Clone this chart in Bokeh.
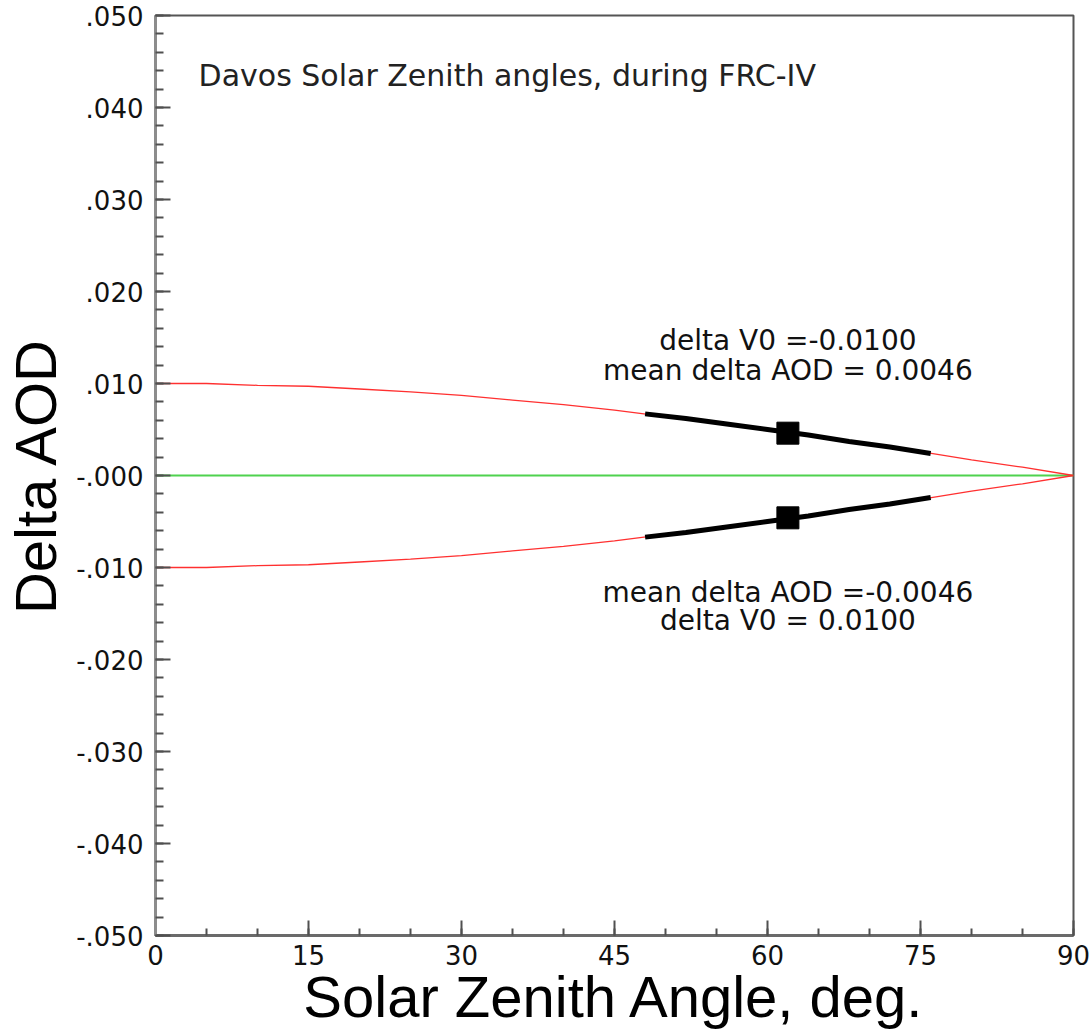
from bokeh.plotting import figure
from bokeh.models import FixedTicker, Label, Range1d
from bokeh.embed import file_html
from bokeh.resources import INLINE

# ---- data ----
sza = [0, 5, 10, 15, 20, 25, 30, 35, 40, 45, 50, 55, 60, 65, 70, 75, 80, 85, 90]
upper_aod = [0.0100, 0.0100, 0.0098, 0.0097, 0.0094, 0.0091, 0.0087, 0.0082, 0.0077,
             0.0071, 0.0064, 0.0057, 0.0050, 0.0042, 0.0034, 0.0026, 0.0017, 0.0009, 0.0000]
lower_aod = [-0.0100, -0.0100, -0.0098, -0.0097, -0.0094, -0.0091, -0.0087, -0.0082, -0.0077,
             -0.0071, -0.0064, -0.0057, -0.0050, -0.0042, -0.0034, -0.0026, -0.0017, -0.0009, 0.0000]

seg_sza = [48, 52, 56, 60, 64, 68, 72, 76]
seg_upper = [0.0067, 0.0062, 0.0056, 0.0050, 0.0044, 0.0037, 0.0031, 0.0024]
seg_lower = [-0.0067, -0.0062, -0.0056, -0.0050, -0.0044, -0.0037, -0.0031, -0.0024]

mean_sza = [62, 62]
mean_aod = [0.0046, -0.0046]

zero_sza = [0, 90]
zero_aod = [0.0, 0.0]

x_ticks = [0, 15, 30, 45, 60, 75, 90]
x_tick_labels = ["0", "15", "30", "45", "60", "75", "90"]
x_minor = [0, 5, 10, 15, 20, 25, 30, 35, 40, 45, 50, 55, 60, 65, 70, 75, 80, 85, 90]

y_ticks = [-0.05, -0.04, -0.03, -0.02, -0.01, 0.0, 0.01, 0.02, 0.03, 0.04, 0.05]
y_tick_labels = ["-.050", "-.040", "-.030", "-.020", "-.010", "-.000",
                 ".010", ".020", ".030", ".040", ".050"]
y_minor = [round(-0.05 + 0.002 * i, 3) for i in range(51)]

title_text = "Davos Solar Zenith angles, during FRC-IV"
upper_notes = ["delta V0 =-0.0100", "mean delta AOD = 0.0046"]
lower_notes = ["mean delta AOD =-0.0046", "delta V0 = 0.0100"]
x_title = "Solar Zenith Angle, deg."
y_title = "Delta AOD"
corner_text = "Delta AOD vs SZA"

# ---- figure ----
p = figure(width=1091, height=1029, frame_width=918, frame_height=920,
           x_range=Range1d(0, 90), y_range=Range1d(-0.05, 0.05),
           output_backend="svg", toolbar_location=None,
           min_border_left=155, min_border_right=18, min_border_top=15,
           min_border_bottom=94)
p.background_fill_color = "white"
p.border_fill_color = "white"
p.xgrid.visible = False
p.ygrid.visible = False
p.outline_line_color = "#555555"
p.outline_line_width = 2

p.xaxis.ticker = FixedTicker(ticks=x_ticks, minor_ticks=x_minor)
p.yaxis.ticker = FixedTicker(ticks=y_ticks, minor_ticks=y_minor)
p.xaxis.major_label_overrides = {t: l for t, l in zip(x_ticks, x_tick_labels)}
p.yaxis.major_label_overrides = {t: l for t, l in zip(y_ticks, y_tick_labels)}

for ax in (p.xaxis, p.yaxis):
    ax.major_tick_in = 15
    ax.major_tick_out = 0
    ax.minor_tick_in = 7
    ax.minor_tick_out = 0
    ax.major_tick_line_color = "#505050"
    ax.major_tick_line_width = 2
    ax.minor_tick_line_color = "#505050"
    ax.minor_tick_line_width = 2
    ax.major_label_text_font = "DejaVu Sans"
    ax.major_label_text_font_size = "26px"
    ax.major_label_text_color = "#111111"
    ax.axis_label_text_font = "Liberation Sans"
    ax.axis_label_text_font_size = "58px"
    ax.axis_label_text_font_style = "normal"
    ax.axis_label_text_color = "black"
p.yaxis.minor_tick_in = 8
p.yaxis.major_label_standoff = 12
p.xaxis.major_label_standoff = 9
p.yaxis.axis_line_color = "#8c8c8c"
p.yaxis.axis_line_width = 3
p.xaxis.axis_line_color = "#6a6a6a"
p.xaxis.axis_line_width = 3

p.xaxis.axis_label = x_title
p.xaxis.axis_label_standoff = -4
p.yaxis.axis_label = y_title
p.yaxis.axis_label_standoff = 5

# ---- glyphs ----
p.line(zero_sza, zero_aod, line_color="#4fd24f", line_width=2)
p.line(sza, upper_aod, line_color="#ff3030", line_width=1.3)
p.line(sza, lower_aod, line_color="#ff3030", line_width=1.3)
p.line(seg_sza, seg_upper, line_color="black", line_width=5)
p.line(seg_sza, seg_lower, line_color="black", line_width=5)
p.scatter(mean_sza, mean_aod, marker="square", size=22, fill_color="black", line_color="black")

# ---- texts ----
p.add_layout(Label(x=4.22, y=0.04348, text=title_text, text_font="DejaVu Sans",
                   text_font_size="30px", text_color="#222222",
                   text_align="left", text_baseline="alphabetic"))
p.add_layout(Label(x=62, y=0.01467, text=upper_notes[0], text_font="DejaVu Sans",
                   text_font_size="28px", text_color="#111111",
                   text_align="center", text_baseline="alphabetic"))
p.add_layout(Label(x=62, y=0.01141, text=upper_notes[1], text_font="DejaVu Sans",
                   text_font_size="28px", text_color="#111111",
                   text_align="center", text_baseline="alphabetic"))
p.add_layout(Label(x=62, y=-0.01272, text=lower_notes[0], text_font="DejaVu Sans",
                   text_font_size="28px", text_color="#111111",
                   text_align="center", text_baseline="alphabetic"))
p.add_layout(Label(x=62, y=-0.01576, text=lower_notes[1], text_font="DejaVu Sans",
                   text_font_size="28px", text_color="#111111",
                   text_align="center", text_baseline="alphabetic"))

p.add_layout(Label(x=55, y=1022, x_units="canvas", y_units="canvas", text=corner_text,
                   text_font="Liberation Sans", text_font_size="14px",
                   text_color="#666666", text_align="left", text_baseline="top"))

open("out.html", "w").write(file_html(p, INLINE))
